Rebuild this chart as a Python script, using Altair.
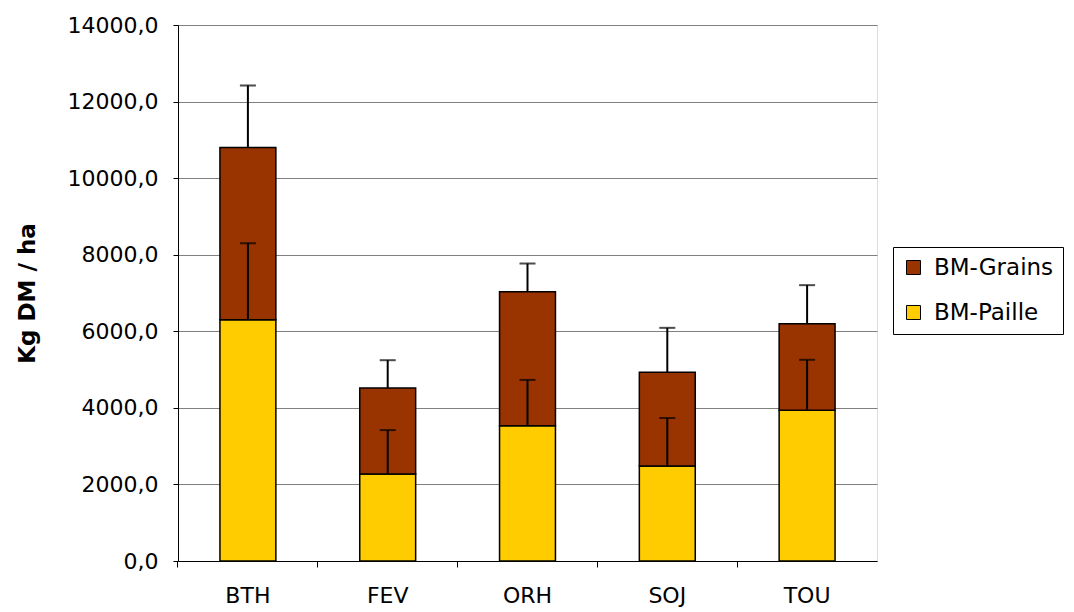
import altair as alt
import pandas as pd

categories = ["BTH", "FEV", "ORH", "SOJ", "TOU"]
paille = [6300, 2270, 3530, 2480, 3940]
grains = [4500, 2250, 3500, 2450, 2260]
err_paille = [2000, 1150, 1200, 1255, 1315]
err_grains = [1620, 725, 740, 1160, 1005]
series = ["BM-Grains", "BM-Paille"]
colors = ["#993300", "#FFCC00"]
y_ticks = [0, 2000, 4000, 6000, 8000, 10000, 12000, 14000]

rows = []
err_rows = []
for c, p, g, ep, eg in zip(categories, paille, grains, err_paille, err_grains):
    rows.append({"cat": c, "serie": "BM-Paille", "low": 0, "high": p})
    rows.append({"cat": c, "serie": "BM-Grains", "low": p, "high": p + g})
    err_rows.append({"cat": c, "base": p, "top": p + ep})
    err_rows.append({"cat": c, "base": p + g, "top": p + g + eg})
bars_df = pd.DataFrame(rows)
err_df = pd.DataFrame(err_rows)

FONT = "DejaVu Sans"
x_scale = alt.Scale(domain=categories, paddingInner=0.6, paddingOuter=0.3)
y_scale = alt.Scale(domain=[0, 14000], nice=False)
y_axis = alt.Axis(
    values=y_ticks,
    labelExpr="replace(format(datum.value, '.1f'), '.', ',')",
    title="Kg DM / ha",
    titleFontSize=23,
    titleFontWeight="bold",
    titleFont=FONT,
    titleColor="black",
    titlePadding=28,
    labelFont=FONT,
    labelFontSize=22,
    labelColor="black",
    labelPadding=15,
    tickSize=5,
    tickColor="black",
    domainColor="black",
    domainWidth=1,
    grid=True,
    gridColor="#808080",
    gridWidth=1,
)

bars = alt.Chart(bars_df).mark_bar(stroke="black", strokeWidth=1.5).encode(
    x=alt.X("cat:N", scale=x_scale, title=None, sort=categories,
            axis=alt.Axis(orient="bottom", ticks=False, domain=True, domainColor="black",
                          labelAngle=0, labelFont=FONT, labelFontSize=22, labelColor="black",
                          labelPadding=24, grid=False)),
    y=alt.Y("low:Q", scale=y_scale, axis=y_axis),
    y2="high:Q",
    color=alt.Color("serie:N", scale=alt.Scale(domain=series, range=colors),
                    legend=alt.Legend(title=None, orient="none", legendX=715, legendY=222,
                                      strokeColor="black", fillColor="white", padding=9,
                                      symbolType="square", symbolSize=196,
                                      symbolStrokeColor="black", symbolStrokeWidth=1,
                                      labelFont=FONT, labelFontSize=23, labelColor="black",
                                      labelOffset=9, rowPadding=21)),
)

rules = alt.Chart(err_df).mark_rule(color="black", strokeWidth=2).encode(
    x=alt.X("cat:N", scale=x_scale, title=None, sort=categories,
            axis=alt.Axis(orient="bottom", labels=False, ticks=True, tickSize=6,
                          tickColor="black", domain=False, grid=False, bandPosition=-0.75)),
    y=alt.Y("base:Q", scale=y_scale, axis=y_axis),
    y2="top:Q",
)

caps = alt.Chart(err_df).mark_tick(color="black", thickness=2, size=16).encode(
    x=alt.X("cat:N", scale=x_scale, title=None, sort=categories, axis=None),
    y=alt.Y("top:Q", scale=y_scale, axis=y_axis),
)

chart = alt.layer(bars, rules, caps).resolve_axis(x="independent").properties(
    width=699,
    height=536,
    autosize=alt.AutoSizeParams(type="none"),
    padding={"left": 170, "top": 17, "right": 189, "bottom": 51},
).configure_view(stroke="#808080", strokeWidth=1).configure(background="white")

chart.save("out.html", embed_options={"renderer": "svg", "actions": False})
